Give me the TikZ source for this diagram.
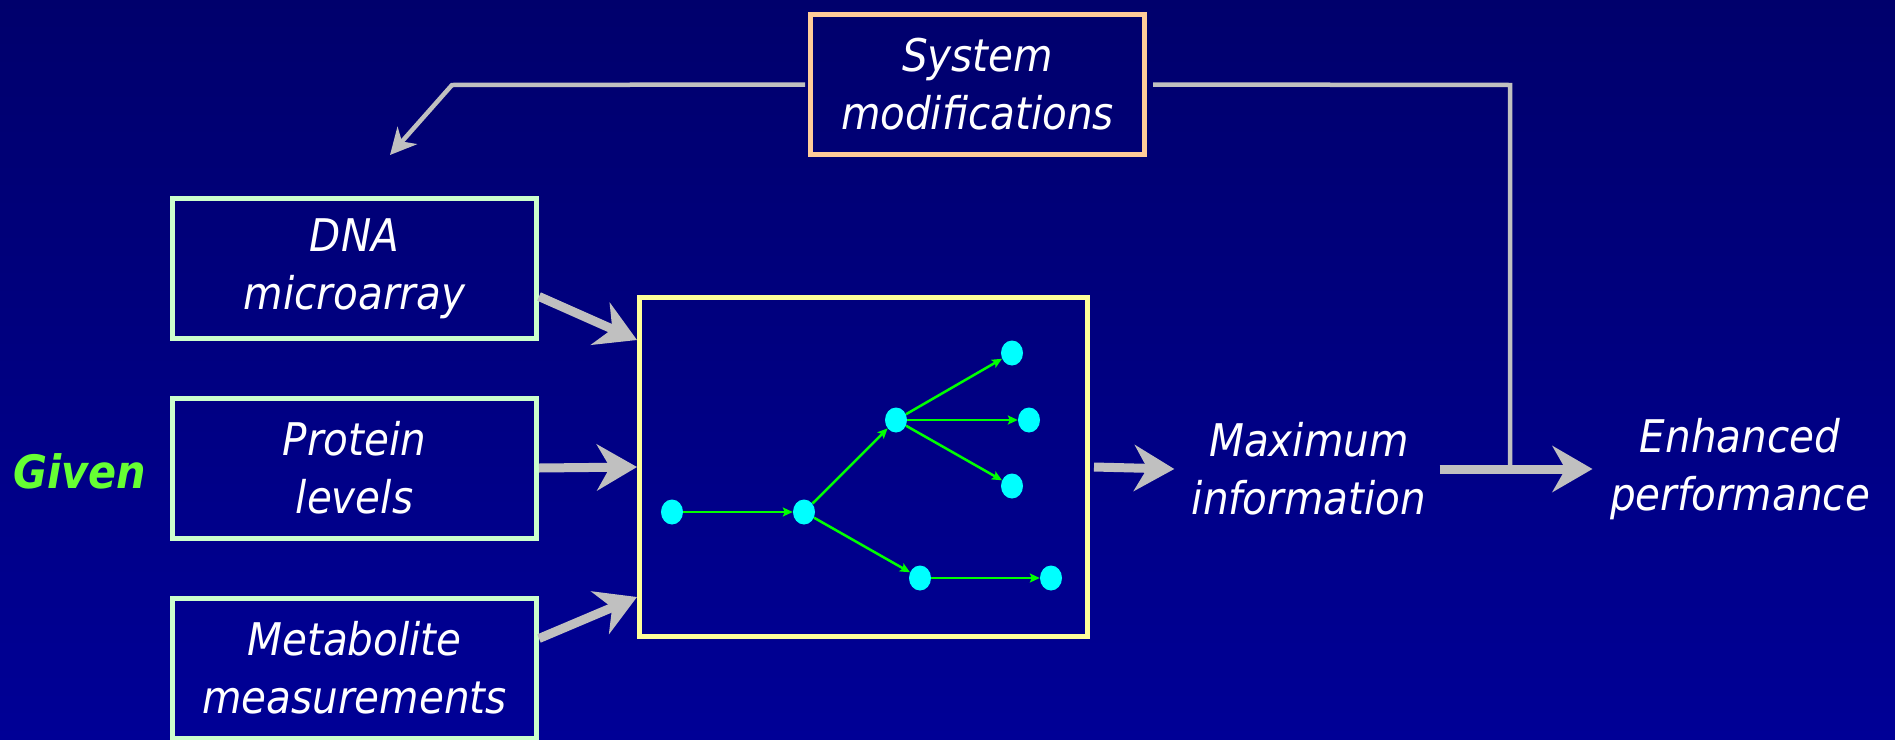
\documentclass[tikz,border=0pt]{standalone}
\usepackage{fontspec}
\setmainfont{DejaVu Sans Condensed}[ItalicFont={DejaVu Sans Condensed Oblique},BoldFont={DejaVu Sans Condensed Bold},BoldItalicFont={DejaVu Sans Condensed Bold Oblique}]
\usetikzlibrary{arrows.meta,shapes.geometric,positioning}

\definecolor{bgtop}{RGB}{0,0,108}
\definecolor{bgbottom}{RGB}{0,0,150}
\definecolor{mint}{RGB}{204,255,204}
\definecolor{paleyellow}{RGB}{255,255,153}
\definecolor{peach}{RGB}{255,204,153}
\definecolor{arrowgray}{RGB}{192,192,192}
\definecolor{givengreen}{RGB}{102,255,51}
\definecolor{nodecyan}{RGB}{0,255,255}
\definecolor{linkgreen}{RGB}{0,255,0}

\tikzset{
  slidetext/.style={text=white, font=\fontsize{45}{58}\selectfont\itshape, align=center},
  databox/.style={draw=mint, line width=5pt, minimum width=364pt, minimum height=140pt, slidetext},
  bigarrow/.style={draw=arrowgray, line width=9pt, -{Stealth[length=40pt,width=46pt,inset=13pt]}},
  fbline/.style={draw=arrowgray, line width=4.5pt},
  gene/.style={ellipse, fill=nodecyan, minimum width=22pt, minimum height=25pt, inner sep=0pt},
  link/.style={draw=linkgreen, line width=2.5pt, -{Stealth[length=10pt,width=9pt,inset=2pt]}}
}

\begin{document}
\begin{tikzpicture}[x=1pt,y=-1pt]
% Backdrop
\useasboundingbox (0,0) rectangle (1895,739);
\fill[top color=bgtop,bottom color=bgbottom] (0,0) rectangle (1895,739);

% Data sources
\node[databox] (dna) at (354.5,268.5) {DNA\\microarray};
\node[databox] (protein) at (354.5,468) {Protein\\levels};
\node[databox] (metab) at (354.5,668) {Metabolite\\measurements};
\node[text=givengreen, font=\fontsize{46}{50}\selectfont\bfseries\itshape] (given) at (80,471) {Given};

% Network model
\node[draw=paleyellow, line width=5pt, minimum width=448pt, minimum height=339pt] (network) at (863.5,467) {};
\foreach \name/\pos in {g1/{(672,512)}, g2/{(804,512)}, g3/{(896,420)}, g4/{(1012,353)},
                        g5/{(1029,420)}, g6/{(1012,486)}, g7/{(920,578)}, g8/{(1051,578)}}
    \node[gene] (\name) at \pos {};
\foreach \a/\b in {g1/g2, g2/g3, g2/g7, g3/g4, g3/g5, g3/g6, g7/g8}
    \draw[link] (\a) -- (\b);

% Outcomes
\node[slidetext] (maxinfo) at (1309,469) {Maximum\\information};
\node[slidetext] (enhanced) at (1740,469) {Enhanced\\performance};
\node[draw=peach, line width=5pt, minimum width=334pt, minimum height=140pt, slidetext] (sysmod) at (977.5,84.5) {System\\modifications};

% Flow arrows
\draw[bigarrow] ([yshift=-28pt]dna.east) -- ([yshift=-45pt]network.north west);
\draw[bigarrow] (protein.east) -- (network.west);
\draw[bigarrow] ([yshift=-43pt]metab.north east) -- ([yshift=42pt]network.south west);
\draw[bigarrow] ([xshift=4pt]network.east) -- ([xshift=-14pt]maxinfo.west);
\draw[bigarrow] ([xshift=10pt]maxinfo.east) -- ([xshift=-14pt]enhanced.west);

% Feedback loop
\coordinate (bend) at (452,85);
\coordinate (fbtip) at (390,155);
\coordinate (corner) at (1510,85);
\coordinate (join) at (1510,466);
\draw[fbline, -{Stealth[length=26pt,width=26pt,inset=8pt]}] ([xshift=-3pt]sysmod.west) -- (bend) -- (fbtip);
\draw[fbline] ([xshift=6pt]sysmod.east) -- (corner) -- (join);
\end{tikzpicture}
\end{document}
